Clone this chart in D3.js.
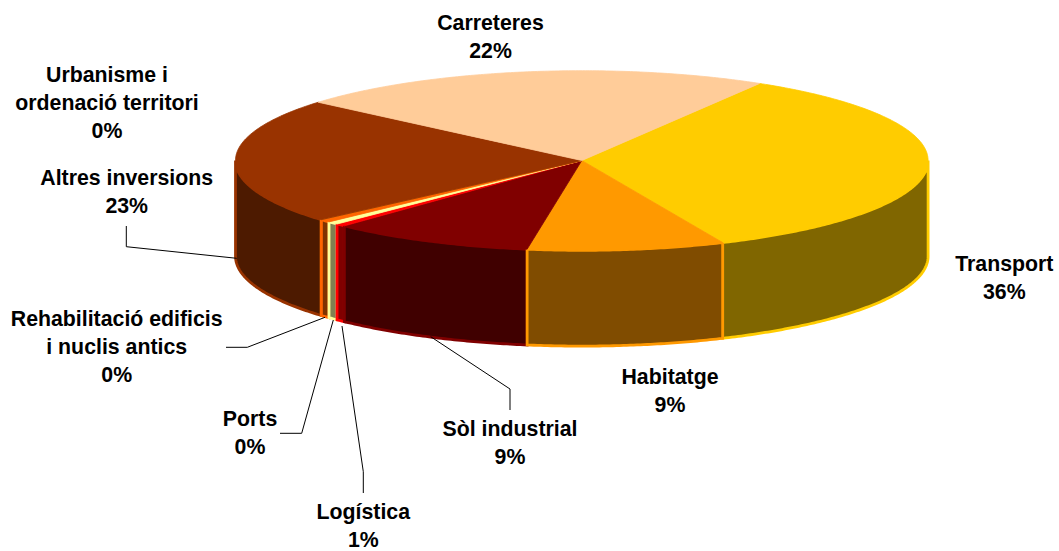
<!DOCTYPE html>
<html lang="ca">
<head>
<meta charset="utf-8">
<script src="https://cdn.jsdelivr.net/npm/d3@7/dist/d3.min.js"></script>
<style>
html,body{margin:0;padding:0;background:#fff;overflow:hidden}
text{font-family:"Liberation Sans",Arial,sans-serif;font-weight:700;fill:#000;text-anchor:middle}
</style>
</head>
<body>
<svg id="chart" width="1059" height="551"></svg>
<script>
// Data: clockwise from the Transport slice
const categories = ["Transport","Habitatge","Sòl industrial","Logística","Ports","Rehabilitació edificis i nuclis antics","Urbanisme i ordenació territori","Altres inversions","Carreteres"];
// Shares as they appear on the drawn (foreshortened) ellipse
const drawnShares = [34.75,9.19,9.5,0.47,0.53,0.52,0.02,22.67,22.35];
const percentLabels = ["36%","9%","9%","1%","0%","0%","0%","23%","22%"];
const topColors  = ["#FFCC00","#FF9900","#800000","#FF0000","#FFFF99","#FF6600","#CC6600","#993300","#FFCC99"];
const sideColors = ["#806600","#804C00","#400000","#800000","#808050","#803300","#663300","#4D1A00","#806650"];

// Layout
const cx = 581.8, cy = 160.5, rx = 346.3, ry = 89.8, depth = 95.8;
const startDeg = 30.9;
const labelLines = [["Transport"],["Habitatge"],["Sòl industrial"],["Logística"],["Ports"],["Rehabilitació edificis","i nuclis antics"],["Urbanisme i","ordenació territori"],["Altres inversions"],["Carreteres"]];
const labelAnchors = [[1004.3,270.7],[670,384],[510,436],[363.3,519],[250,426],[116.7,326],[107,81.7],[126.7,185],[490.5,30]];
const leaderPaths = [null,null,
  [[510,410],[510,389],[430.7,336.7]],
  [[363.3,493],[363.3,471.7],[342,326]],
  [[280,433.3],[301.7,433.3],[333.3,320]],
  [[226,347.3],[247.3,347.3],[325,317.3]],
  null,
  [[126.3,226],[126.3,246.7],[236.7,258.3]],
  null];

const svg = d3.select("#chart");
const rad = d3.scaleLinear().domain([0,360]).range([0,2*Math.PI]);
const px = a => cx + rx*Math.sin(a);
const py = a => cy - ry*Math.cos(a);
const line = d3.line();

const pie = d3.pie().sort(null).value(d=>d)
  .startAngle(rad(startDeg)).endAngle(rad(startDeg+360));
const slices = pie(drawnShares).map((d,i)=>({...d,i}));

function arcPts(a0,a1,dy=0){
  const n = Math.max(2,Math.ceil(Math.abs(a1-a0)/0.01));
  return d3.range(n+1).map(k=>{const a=a0+(a1-a0)*k/n;return [px(a),py(a)+dy];});
}

// Side walls: only the front half (90°..270°, also wrapped) is visible, back to front
const lo = rad(90), hi = rad(270), full = 2*Math.PI;
const walls = [];
slices.forEach(s=>{
  [0,-full].forEach(off=>{
    const a0 = Math.max(s.startAngle+off,lo), a1 = Math.min(s.endAngle+off,hi);
    if(a1>a0) walls.push({i:s.i,a0,a1,dist:Math.abs((a0+a1)/2-Math.PI)});
  });
});
walls.sort((p,q)=>q.dist-p.dist);

svg.append("g").selectAll("path").data(walls).join("path")
  .attr("d",w=>line([...arcPts(w.a0,w.a1),...arcPts(w.a1,w.a0,depth)])+"Z")
  .attr("fill",w=>sideColors[w.i])
  .attr("stroke",w=>topColors[w.i])
  .attr("stroke-width",2.8)
  .attr("stroke-linejoin","miter");

// Top faces
svg.append("g").selectAll("path").data(slices).join("path")
  .attr("d",s=>line([[cx,cy],...arcPts(s.startAngle,s.endAngle)])+"Z")
  .attr("fill",s=>topColors[s.i])
  .attr("stroke",s=>topColors[s.i])
  .attr("stroke-width",0.8)
  .attr("stroke-linejoin","round");

// Leader lines
svg.append("g").selectAll("path").data(leaderPaths.filter(Boolean)).join("path")
  .attr("d",p=>line(p))
  .attr("fill","none").attr("stroke","#000").attr("stroke-width",1);

// Labels
const labels = svg.append("g").selectAll("text").data(slices).join("text")
  .attr("font-size",21.3)
  .attr("transform",s=>`translate(${labelAnchors[s.i][0]},${labelAnchors[s.i][1]})`);
labels.each(function(s){
  const t = d3.select(this);
  [...labelLines[s.i],percentLabels[s.i]].forEach((txt,k)=>{
    t.append("tspan").attr("x",0).attr("y",k*28).text(txt);
  });
});
</script>
</body>
</html>
